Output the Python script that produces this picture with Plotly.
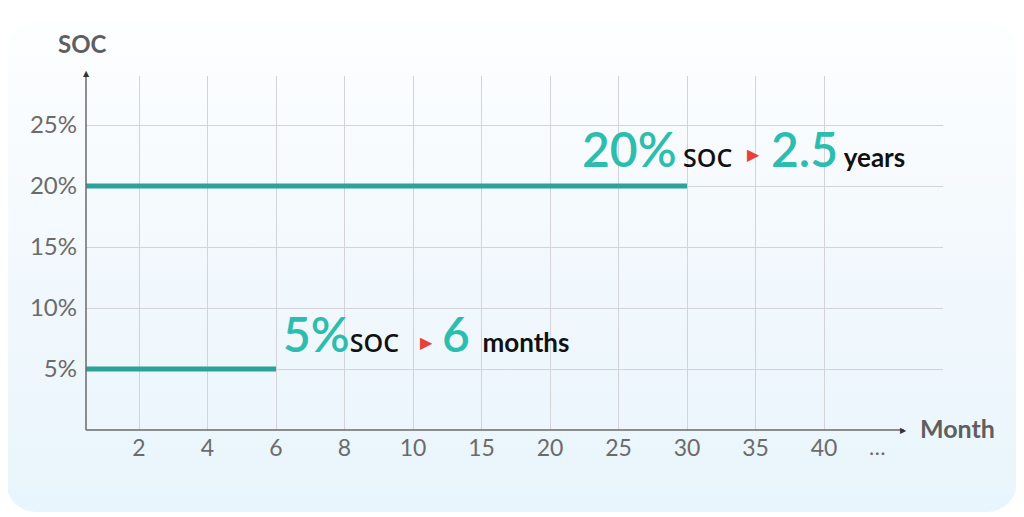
import base64
import plotly.graph_objects as go

# Data
month_ticks = ['2', '4', '6', '8', '10', '15', '20', '25', '30', '35', '40']
soc_ticks = [5, 10, 15, 20, 25]
soc_levels = [20, 5]
storage_end = ['30', '6']          # month tick where each line stops
storage_value = ['2.5', '6']
storage_unit = ['years', 'months']

TEAL_LINE = '#2aa39b'
TEAL_TEXT = '#2dbdae'
GRAY = '#6b6b6b'
AXIS = '#6a6a6a'

tick_pos = list(range(1, len(month_ticks) + 1))
x_min, x_max = 0.226, 12.737
y_min, y_max = 0, 29.02

# page is offset by the 8px body margin, so plot box = page px - 8
PL, PT, PW, PH = 86, 76, 857, 354


def px(x):
    return (x - PL) / PW


def py(y):
    return (PT + PH - y) / PH


fig = go.Figure()

for soc, end in zip(soc_levels, storage_end):
    fig.add_trace(go.Scatter(
        x=[x_min, month_ticks.index(end) + 1], y=[soc, soc],
        mode='lines', line=dict(color=TEAL_LINE, width=5),
        hoverinfo='skip', showlegend=False, cliponaxis=False))

# background card with a soft vertical gradient
svg = (
    '<svg xmlns="http://www.w3.org/2000/svg" width="1011" height="490" '
    'viewBox="0 0 1011 490" preserveAspectRatio="none">'
    '<defs><linearGradient id="g" x1="0" y1="0" x2="0" y2="1">'
    '<stop offset="0" stop-color="#fdfeff"/><stop offset="0.55" stop-color="#f1f8fd"/>'
    '<stop offset="1" stop-color="#e9f5fc"/></linearGradient></defs>'
    '<rect x="0" y="0" width="1011" height="490" rx="30" ry="30" fill="url(#g)"/></svg>'
)
src = 'data:image/svg+xml;base64,' + base64.b64encode(svg.encode()).decode()
fig.add_layout_image(dict(
    source=src, xref='paper', yref='paper',
    x=px(6), y=py(22), sizex=1011 / PW, sizey=490 / PH,
    xanchor='left', yanchor='top', sizing='stretch', layer='below'))

BIG = f'font-size:48px;color:{TEAL_TEXT};font-weight:600'
SOC_STYLE = 'font-size:25px;color:#111;font-family:Open Sans;font-weight:600'
UNIT_STYLE = 'font-size:26px;color:#111;font-weight:bold'

# label pieces: (x of "NN% SOC", x of triangle, x of "value unit", y text, y triangle)
label_places = [(7.436, 9.964, 10.196, 23.1, 22.6), (3.07, 5.19, 5.394, 7.94, 7.15)]
soc_gaps = [' ', '']
unit_gaps = [' ', '  ']

for i, soc in enumerate(soc_levels):
    xa, xt, xb, yt, ytri = label_places[i]
    fig.add_annotation(x=xa, y=yt, xref='x', yref='y', xanchor='left', yanchor='middle',
                       text=(f'<span style="{BIG}">{soc}%</span>'
                             f'<span style="{SOC_STYLE}">{soc_gaps[i]}SOC</span>'),
                       showarrow=False, font=dict(family='Lato', size=12))
    fig.add_annotation(x=xt, y=ytri, xref='x', yref='y', xanchor='center', yanchor='middle',
                       text='▶', showarrow=False,
                       font=dict(family='DejaVu Sans', size=16, color='#e8403a'))
    fig.add_annotation(x=xb, y=yt, xref='x', yref='y', xanchor='left', yanchor='middle',
                       text=(f'<span style="{BIG}">{storage_value[i]}</span>'
                             f'<span style="{UNIT_STYLE}">{unit_gaps[i]}{storage_unit[i]}</span>'),
                       showarrow=False, font=dict(family='Lato', size=12))

# axis lines with small arrow heads
fig.add_shape(type='line', xref='paper', yref='paper', x0=0, x1=px(904), y0=0, y1=0,
              line=dict(color=AXIS, width=1.5), layer='above')
fig.add_shape(type='line', xref='paper', yref='paper', x0=0, x1=0, y0=0, y1=py(74),
              line=dict(color=AXIS, width=1.5), layer='above')
fig.add_annotation(x=px(909), y=py(430), xref='paper', yref='paper',
                   xanchor='right', yanchor='middle', showarrow=False, text='▶',
                   font=dict(family='DejaVu Sans', size=8, color='#333333'))
fig.add_annotation(x=px(86), y=py(74), xref='paper', yref='paper',
                   xanchor='center', yanchor='middle', showarrow=False, text='▲',
                   font=dict(family='DejaVu Sans', size=8, color='#333333'))

fig.add_annotation(x=px(82), y=py(44), xref='paper', yref='paper',
                   xanchor='center', yanchor='middle', showarrow=False, text='<b>SOC</b>',
                   font=dict(family='Lato', size=24, color='#5f5f5f'))
fig.add_annotation(x=px(957), y=py(428), xref='paper', yref='paper',
                   xanchor='center', yanchor='middle', showarrow=False, text='<b>Month</b>',
                   font=dict(family='Lato', size=25, color='#5f5f5f'))
fig.add_annotation(x=px(877), y=py(446), xref='paper', yref='paper',
                   xanchor='center', yanchor='middle', showarrow=False, text='…',
                   font=dict(family='Lato', size=22, color=GRAY))

fig.update_layout(
    width=1024, height=517,
    margin=dict(l=PL - 8, r=1024 - (PL - 8) - PW, t=PT - 8, b=517 - (PT - 8) - PH),
    paper_bgcolor='white', plot_bgcolor='rgba(0,0,0,0)',
    font=dict(family='Lato', color=GRAY),
    showlegend=False,
)
fig.update_xaxes(range=[x_min, x_max], tickvals=tick_pos, ticktext=month_ticks,
                 showgrid=True, gridcolor='#d3d3d8', gridwidth=1, zeroline=False,
                 showline=False, ticks='', tickfont=dict(size=23, color=GRAY),
                 ticklabelstandoff=2, fixedrange=True)
fig.update_yaxes(range=[y_min, y_max], tickvals=soc_ticks,
                 ticktext=[f'{v}%' for v in soc_ticks],
                 showgrid=True, gridcolor='#d3d3d8', gridwidth=1, zeroline=False,
                 showline=False, ticks='', tickfont=dict(size=24, color=GRAY),
                 ticklabelstandoff=8, fixedrange=True)

fig.write_html('out.html', config={'displayModeBar': False})
